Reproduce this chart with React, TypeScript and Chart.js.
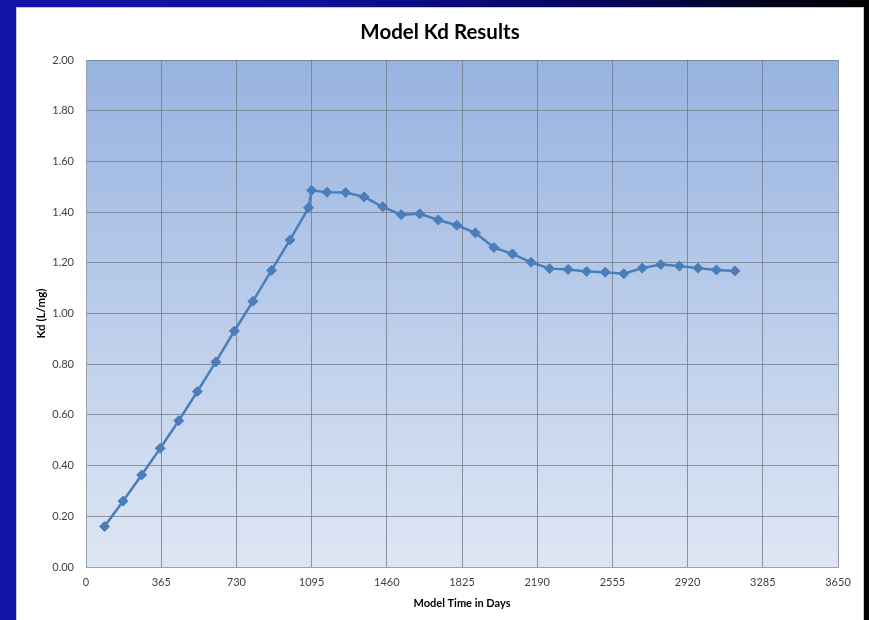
import React, { useEffect, useRef } from "react";
import { Chart, registerables } from "chart.js";

Chart.register(...registerables);

const days: number[] = [
  90, 180, 270, 360, 450, 540, 630, 720, 810, 900, 990, 1080, 1095, 1170, 1260,
  1350, 1440, 1530, 1620, 1710, 1800, 1890, 1980, 2070, 2160, 2250, 2340, 2430,
  2520, 2610, 2700, 2790, 2880, 2970, 3060, 3150,
];
const kdValues: number[] = [
  0.16, 0.26, 0.363, 0.468, 0.577, 0.692, 0.809, 0.931, 1.048, 1.17, 1.29, 1.417,
  1.486, 1.478, 1.477, 1.46, 1.421, 1.39, 1.393, 1.369, 1.348, 1.318, 1.26, 1.235,
  1.202, 1.177, 1.174, 1.166, 1.163, 1.157, 1.179, 1.193, 1.187, 1.179, 1.172, 1.168,
];
const chartTitle = "Model Kd Results";
const xAxisTitle = "Model Time in Days";
const yAxisTitle = "Kd (L/mg)";

const plotBackground = {
  id: "plotBackground",
  beforeDraw(chart: any) {
    const { ctx, chartArea } = chart;
    if (!chartArea) return;
    const g = ctx.createLinearGradient(0, chartArea.top, 0, chartArea.bottom);
    g.addColorStop(0, "#97b3e0");
    g.addColorStop(1, "#dee6f4");
    ctx.save();
    ctx.fillStyle = g;
    ctx.fillRect(chartArea.left, chartArea.top, chartArea.right - chartArea.left, chartArea.bottom - chartArea.top);
    ctx.restore();
  },
};

const centeredTitle = {
  id: "centeredTitle",
  afterDraw(chart: any) {
    const { ctx, width } = chart;
    ctx.save();
    ctx.fillStyle = "#000";
    ctx.font = "bold 20.5px Lato, 'Open Sans', sans-serif";
    ctx.textAlign = "center";
    ctx.textBaseline = "middle";
    ctx.fillText(chartTitle, width / 2, 24);
    ctx.restore();
  },
};

export default function App() {
  const ref = useRef<HTMLCanvasElement>(null);
  useEffect(() => {
    if (!ref.current) return;
    const points = days.map((d, i) => ({ x: d, y: kdValues[i] }));
    const tickFont = { family: "Lato, 'Open Sans', sans-serif", size: 11 };
    const chart = new Chart(ref.current, {
      type: "scatter",
      data: {
        datasets: [
          {
            data: points,
            showLine: true,
            borderColor: "#4a7ebb",
            backgroundColor: "#4a7ebb",
            borderWidth: 2.5,
            pointStyle: "rectRot",
            pointRadius: 5,
            pointBorderWidth: 1,
            pointBackgroundColor: "#4a7ebb",
            pointBorderColor: "#4a7ebb",
          },
        ],
      },
      options: {
        animation: false,
        responsive: false,
        layout: { padding: { left: 0, right: 25, top: 52, bottom: 0 } },
        plugins: {
          legend: { display: false },
          tooltip: { enabled: false },
          title: { display: false },
        },
        scales: {
          x: {
            type: "linear",
            min: 0,
            max: 3650,
            afterFit: (s: any) => {
              s.height = 54;
            },
            ticks: {
              stepSize: 365,
              color: "#404040",
              font: tickFont,
              padding: 9,
              maxRotation: 0,
              autoSkip: false,
              callback: (v: any) => String(v),
            },
            grid: { color: "rgba(110,120,135,0.75)", drawTicks: false },
            border: { color: "#9aa3ae" },
            title: {
              display: true,
              text: xAxisTitle,
              color: "#000",
              font: { family: "Lato, 'Open Sans', sans-serif", size: 11, weight: "bold" },
              padding: { top: 0, bottom: 11 },
            },
          },
          y: {
            type: "linear",
            min: 0,
            max: 2,
            afterFit: (s: any) => {
              s.width = 69;
            },
            ticks: {
              stepSize: 0.2,
              color: "#404040",
              font: tickFont,
              padding: 12,
              callback: (v: any) => Number(v).toFixed(2),
            },
            grid: { color: "rgba(110,120,135,0.75)", drawTicks: false },
            border: { color: "#9aa3ae" },
            title: {
              display: true,
              text: yAxisTitle,
              color: "#000",
              font: { family: "Lato, 'Open Sans', sans-serif", size: 11.5, weight: "bold" },
              padding: { top: 17, bottom: 0 },
            },
          },
        },
      },
      plugins: [plotBackground, centeredTitle],
    });
    return () => chart.destroy();
  }, []);

  return (
    <div
      style={{
        position: "fixed",
        left: 0,
        top: 0,
        width: 869,
        height: 620,
        overflow: "hidden",
        background: "linear-gradient(90deg, #1313a8 0%, #10109c 35%, #06065a 70%, #010118 90%, #000 100%)",
      }}
    >
      <div
        style={{
          position: "absolute",
          left: 16,
          top: 7,
          width: 846,
          height: 620,
          background: "#fff",
          borderTop: "1px solid #c8c8c8",
          borderLeft: "1px solid #c8c8c8",
          borderRight: "1px solid #c8c8c8",
        }}
      >
        <canvas ref={ref} width={846} height={613} style={{ display: "block", position: "absolute", left: 0, top: 0 }} />
      </div>
    </div>
  );
}
